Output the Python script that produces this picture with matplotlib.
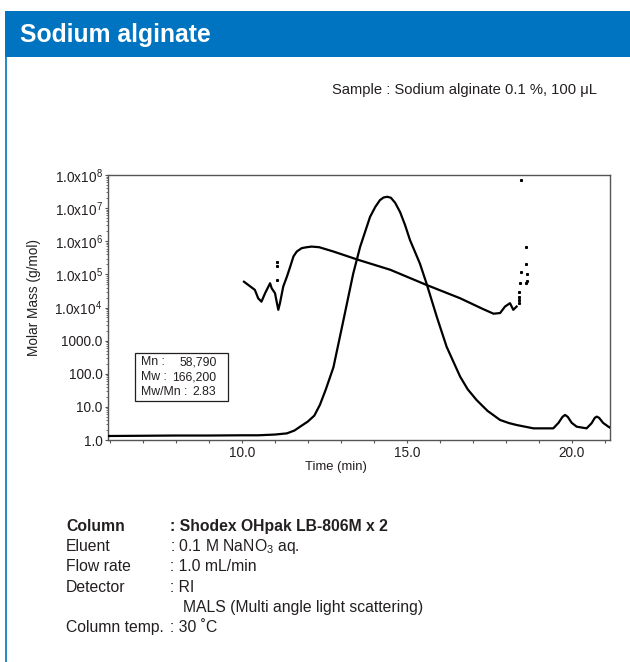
import matplotlib
matplotlib.use('Agg')
import matplotlib.pyplot as plt
from matplotlib.patches import Rectangle
from matplotlib.lines import Line2D
from matplotlib.ticker import MultipleLocator, FuncFormatter, FixedLocator, FixedFormatter, LogLocator

plt.rcParams['font.family'] = ['Liberation Sans', 'DejaVu Sans']
plt.rcParams['mathtext.fontset'] = 'custom'
plt.rcParams['mathtext.rm'] = 'Liberation Sans'
plt.rcParams['mathtext.default'] = 'regular'

# RI chromatogram (arbitrary signal units)
ri_time = [5.95, 7.0, 8.0, 9.0, 10.0, 10.5, 11.0, 11.37, 11.6, 11.77, 12.0, 12.2, 12.37,
           12.55, 12.78, 13.08, 13.38, 13.59, 13.89, 14.05, 14.19, 14.3, 14.41, 14.52,
           14.65, 14.8, 14.95, 15.1, 15.4, 15.6, 15.91, 16.21, 16.62, 16.85, 17.12,
           17.45, 17.83, 18.1, 18.33, 18.84, 19.44, 19.6, 19.72, 19.8, 19.88, 20.0,
           20.15, 20.45, 20.6, 20.7, 20.76, 20.83, 20.95, 21.11, 21.16]
ri_signal = [0.0, 0.1, 0.2, 0.2, 0.3, 0.3, 0.6, 1.1, 2.3, 3.9, 6.0, 8.5, 13.0,
             19.5, 28.7, 48.2, 67.9, 79.1, 91.6, 95.8, 98.6, 99.7, 100.0, 99.6,
             97.5, 93.6, 88.2, 81.9, 72.1, 63.8, 49.9, 37.3, 24.8, 19.5, 15.0,
             10.5, 6.7, 5.4, 4.6, 3.2, 3.2, 5.5, 8.0, 8.8, 8.0, 5.5,
             3.9, 3.2, 5.3, 7.6, 8.1, 7.6, 5.5, 3.9, 3.5]

# MALS molar mass (g/mol)
mals_time = [10.07, 10.2, 10.4, 10.5, 10.6, 10.71, 10.86, 10.91, 11.01, 11.06, 11.11,
             11.16, 11.26, 11.37, 11.47, 11.57, 11.67, 11.82, 11.97, 12.12, 12.35,
             12.78, 13.53, 14.5, 15.6, 16.62, 17.3, 17.63, 17.83, 17.98, 18.13, 18.23, 18.33]
mals_mass = [6.0e4, 4.8e4, 3.4e4, 1.9e4, 1.5e4, 2.7e4, 5.4e4, 3.8e4, 2.7e4, 1.5e4, 8.5e3,
             1.35e4, 4.3e4, 8.5e4, 1.7e5, 3.5e5, 4.9e5, 6.2e5, 6.6e5, 6.9e5, 6.6e5,
             4.9e5, 2.75e5, 1.38e5, 4.8e4, 1.9e4, 9.1e3, 6.5e3, 6.8e3, 1.07e4, 1.35e4, 8.5e3, 1.07e4]

# stray MALS points
dots_time = [11.06, 11.06, 11.07, 18.45, 18.63, 18.62, 18.45, 18.64, 18.64, 18.62,
             18.43, 18.41, 18.41, 18.40, 18.40]
dots_mass = [2.3e5, 1.8e5, 6.8e4, 7.1e7, 6.9e5, 2.0e5, 1.17e5, 1.0e5, 6.3e4, 5.6e4,
             5.4e4, 3.0e4, 2.1e4, 1.7e4, 1.35e4]

ytick_values = [1, 10, 100, 1000, 1e4, 1e5, 1e6, 1e7, 1e8]
ytick_labels = ['1.0', '10.0', '100.0', '1000.0', r'1.0x10$^{4}$', r'1.0x10$^{5}$',
                r'1.0x10$^{6}$', r'1.0x10$^{7}$', r'1.0x10$^{8}$']

stat_labels = ['Mn :', 'Mw :', 'Mw/Mn :']
stat_values = ['58,790', '166,200', '2.83']

cond_labels = ['Column', 'Eluent', 'Flow rate', 'Detector', '', 'Column temp.']
cond_values = [': Shodex OHpak LB-806M x 2', r': 0.1 M NaNO$_3$ aq.', ': 1.0 mL/min',
               ': RI', 'MALS (Multi angle light scattering)', ': 30 ˚C']

W, H = 630, 662
txt = '#231f20'
fig = plt.figure(figsize=(W / 100, H / 100), dpi=100)

blue = '#0074C1'
# header bar and frame line
fig.patches.append(Rectangle((5 / W, 1 - 57 / H), 1, 46 / H, transform=fig.transFigure,
                             facecolor=blue, edgecolor='none'))
fig.lines.append(Line2D([6 / W, 6 / W], [0, 1 - 57 / H], transform=fig.transFigure,
                        color=blue, lw=1.2))
fig.text(20 / W, 1 - 35 / H, 'Sodium alginate', color='white', fontsize=17.8,
         fontweight='bold', va='center', ha='left')
fig.text(597 / W, 1 - 90 / H, 'Sample : Sodium alginate 0.1 %, 100 μL', fontsize=10.6,
         ha='right', va='center', color=txt)

ax = fig.add_axes([108 / W, 1 - 440 / H, 502 / W, 265 / H])
ax.semilogy(mals_time, mals_mass, color='black', lw=1.6)
ax.plot(dots_time, dots_mass, 's', color='black', ms=1.2, lw=0)
ax.set_xlim(5.95, 21.16)
ax.set_ylim(1, 1e8)

ax.xaxis.set_major_locator(MultipleLocator(1))
ax.xaxis.set_major_formatter(FuncFormatter(lambda v, p: f'{v:.1f}' if round(v) % 5 == 0 else ''))
ax.yaxis.set_major_locator(FixedLocator(ytick_values))
ax.yaxis.set_major_formatter(FixedFormatter(ytick_labels))
ax.yaxis.set_minor_locator(LogLocator(base=10, subs=range(2, 10), numticks=20))
ax.tick_params(which='major', direction='out', length=2.5, width=0.8, color='#555555',
               labelsize=9.8, pad=1.5, labelcolor=txt)
ax.tick_params(which='minor', direction='out', length=1.8, width=0.6, color='#555555')
for s in ax.spines.values():
    s.set_color('#555555')
    s.set_linewidth(1.0)

ax.set_xlabel('Time (min)', fontsize=9.4, color=txt)
ax.xaxis.set_label_coords((336 - 108) / 502, -(461 - 440) / 265)
ax.set_ylabel('Molar Mass (g/mol)', fontsize=9.8, color=txt)
ax.yaxis.set_label_coords(-(108 - 41) / 502, (440 - 297) / 265)

# RI trace on a hidden linear axis
ax2 = ax.twinx()
ax2.plot(ri_time, ri_signal, color='black', lw=1.6)
ax2.set_ylim(-1.67, 109.1)
ax2.set_xlim(5.95, 21.16)
ax2.axis('off')

# statistics box
ax.add_patch(Rectangle((0.054, 0.147), 0.185, 0.181, transform=ax.transAxes,
                       facecolor='white', edgecolor=txt, lw=0.9, zorder=5))
for i, (lab, val) in enumerate(zip(stat_labels, stat_values)):
    yy = 0.294 - i * 0.057
    ax.text(0.066, yy, lab, transform=ax.transAxes, fontsize=8.8, va='center', ha='left',
            color=txt, zorder=6)
    ax.text(0.216, yy, val, transform=ax.transAxes, fontsize=8.8, va='center', ha='right',
            color=txt, zorder=6)

# conditions
for i, (lab, val) in enumerate(zip(cond_labels, cond_values)):
    yy = 1 - (531 + i * 20.2) / H
    fw = 'bold' if i == 0 else 'normal'
    vx = 183 if lab == '' else 170
    fig.text(66 / W, yy, lab, fontsize=11.3, fontweight=fw, va='baseline', ha='left', color=txt)
    fig.text(vx / W, yy, val, fontsize=11.3, fontweight=fw, va='baseline', ha='left', color=txt)

fig.savefig('out.png', dpi=100)
